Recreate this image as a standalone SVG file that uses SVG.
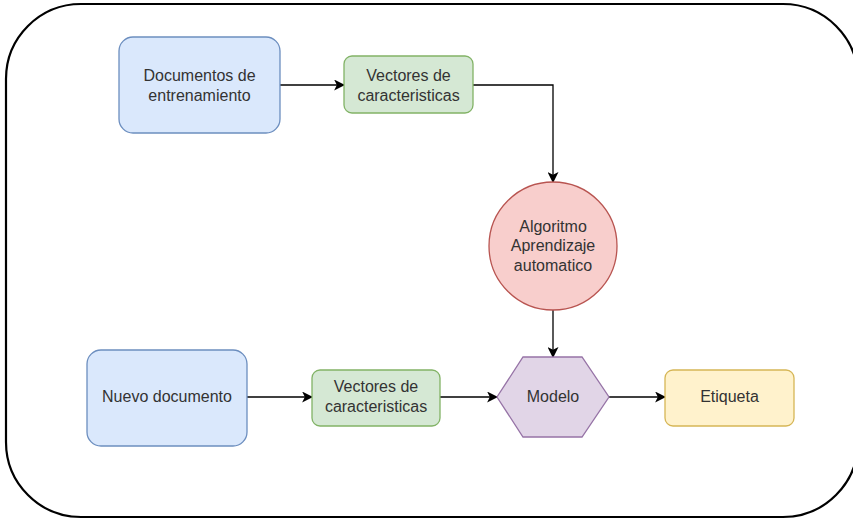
<svg xmlns="http://www.w3.org/2000/svg" width="853" height="521" viewBox="0 0 853 521">
  <defs>
    <marker id="arrow" viewBox="0 0 10 10" refX="9" refY="5" markerWidth="11" markerHeight="11" markerUnits="userSpaceOnUse" orient="auto">
      <path d="M0,0 L10,5 L0,10 L2.5,5 Z" fill="#000"/>
    </marker>
    <style>
      .lbl { font-family: "Liberation Sans", Arial, sans-serif; font-size: 16px; fill: #333; text-anchor: middle; }
      .blue { fill: #dae8fc; stroke: #6c8ebf; stroke-width: 1.3; }
      .green { fill: #d5e8d4; stroke: #82b366; stroke-width: 1.3; }
      .red { fill: #f8cecc; stroke: #b85450; stroke-width: 1.3; }
      .purple { fill: #e1d5e7; stroke: #9673a6; stroke-width: 1.3; }
      .yellow { fill: #fff2cc; stroke: #d6b656; stroke-width: 1.3; }
      .edge { fill: none; stroke: #000; stroke-width: 1.3; marker-end: url(#arrow); }
    </style>
  </defs>
  <rect width="853" height="521" fill="#fff"/>

  <!-- outer frame -->
  <rect id="frame" x="6" y="4" width="852" height="513" rx="75" ry="75" fill="none" stroke="#000" stroke-width="2.2"/>

  <g id="connectors">
    <path class="edge" d="M280,85 L344,85"/>
    <path class="edge" d="M473,85 L553,85 L553,182"/>
    <path class="edge" d="M553,310 L553,357"/>
    <path class="edge" d="M247,397 L312,397"/>
    <path class="edge" d="M440,397 L497,397"/>
    <path class="edge" d="M609,397 L665,397"/>
  </g>

  <g id="docs-train">
    <rect class="blue" x="119" y="37" width="161" height="96" rx="14"/>
    <text class="lbl" x="199.5" y="81">Documentos de</text>
    <text class="lbl" x="199.5" y="101">entrenamiento</text>
  </g>

  <g id="vectors-top">
    <rect class="green" x="344" y="56" width="129" height="57" rx="8"/>
    <text class="lbl" x="408.5" y="81">Vectores de</text>
    <text class="lbl" x="408.5" y="101">caracteristicas</text>
  </g>

  <g id="algorithm">
    <circle class="red" cx="553" cy="246" r="64"/>
    <text class="lbl" x="553" y="232">Algoritmo</text>
    <text class="lbl" x="553" y="251">Aprendizaje</text>
    <text class="lbl" x="553" y="271">automatico</text>
  </g>

  <g id="new-doc">
    <rect class="blue" x="87" y="350" width="160" height="96" rx="14"/>
    <text class="lbl" x="167" y="402">Nuevo documento</text>
  </g>

  <g id="vectors-bottom">
    <rect class="green" x="312" y="370" width="128" height="56" rx="8"/>
    <text class="lbl" x="376" y="392">Vectores de</text>
    <text class="lbl" x="376" y="412">caracteristicas</text>
  </g>

  <g id="model">
    <polygon class="purple" points="523,357 582,357 609,397 582,437 523,437 497,397"/>
    <text class="lbl" x="553" y="402">Modelo</text>
  </g>

  <g id="label">
    <rect class="yellow" x="665" y="370" width="129" height="56" rx="8"/>
    <text class="lbl" x="729.5" y="402">Etiqueta</text>
  </g>
</svg>
